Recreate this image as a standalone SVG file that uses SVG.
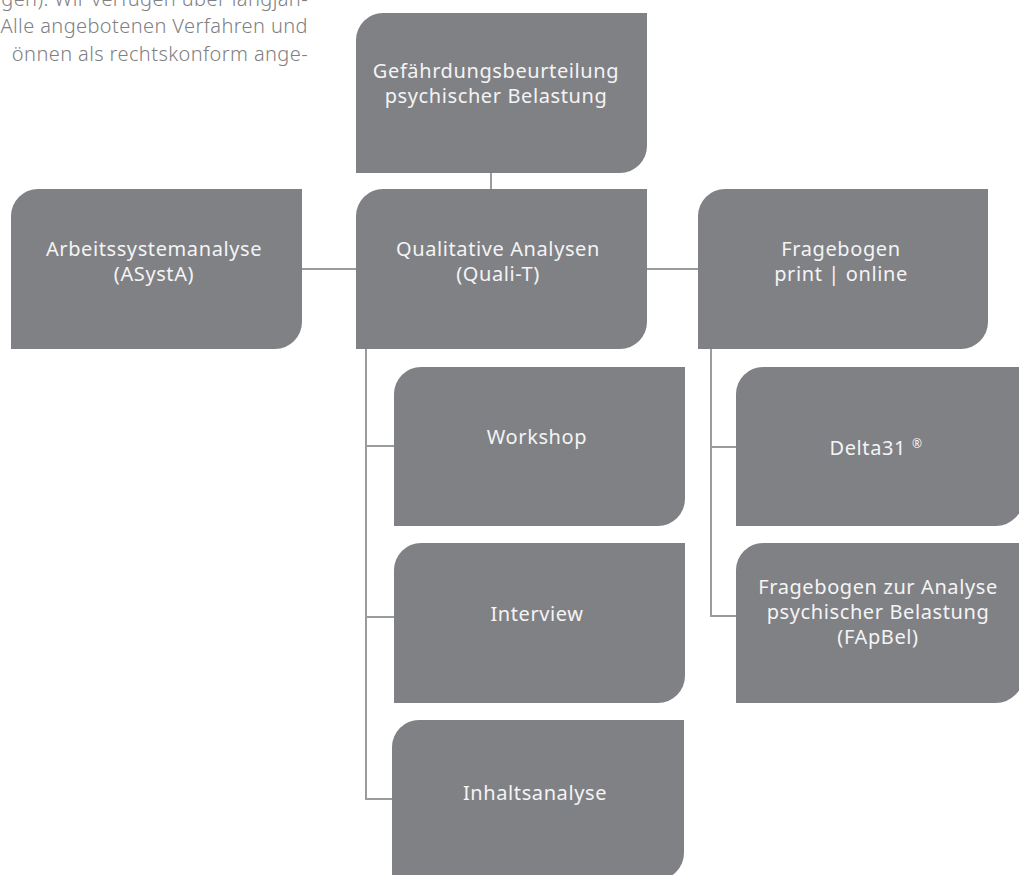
<svg xmlns="http://www.w3.org/2000/svg" width="1019" height="875" viewBox="0 0 1019 875">
<style>
.box{fill:#808185}
.lbl{font-family:"Noto Sans","IBM Plex Sans","Liberation Sans",sans-serif;font-size:20px;letter-spacing:0.6px;fill:#f4f4f4;text-anchor:middle}
.para{font-family:"Noto Sans","Liberation Sans",sans-serif;font-size:20px;letter-spacing:0.4px;fill:#808082;text-anchor:end;font-weight:300}
.con{fill:none;stroke:#9a9b9d;stroke-width:2}
</style>
<rect width="1019" height="875" fill="#ffffff"/>
<g id="paragraph">
<text class="para" x="308" y="6">gen). Wir verfügen über langjäh-</text>
<text class="para" x="308" y="33">Alle angebotenen Verfahren und</text>
<text class="para" x="308" y="61">önnen als rechtskonform ange-</text>
</g>
<g id="connectors">
<path class="con" d="M491,173 V189"/>
<path class="con" d="M302,269 H356"/>
<path class="con" d="M647,269 H698"/>
<path class="con" d="M366,349 V799 H392"/>
<path class="con" d="M366,446 H394"/>
<path class="con" d="M366,617 H394"/>
<path class="con" d="M711,349 V616 H736"/>
<path class="con" d="M711,447 H736"/>
</g>
<g id="node-gefaehrdung">
<path class="box" d="M383,13 H647 V146 A27,27 0 0 1 620,173 H356 V40 A27,27 0 0 1 383,13 Z"/>
<text class="lbl" x="496" y="78">Gefährdungsbeurteilung</text>
<text class="lbl" x="496" y="103">psychischer Belastung</text>
</g>
<g id="node-arbeitssystem">
<path class="box" d="M38,189 H302 V322 A27,27 0 0 1 275,349 H11 V216 A27,27 0 0 1 38,189 Z"/>
<text class="lbl" x="154" y="256">Arbeitssystemanalyse</text>
<text class="lbl" x="154" y="281">(ASystA)</text>
</g>
<g id="node-qualitativ">
<path class="box" d="M383,189 H647 V322 A27,27 0 0 1 620,349 H356 V216 A27,27 0 0 1 383,189 Z"/>
<text class="lbl" x="498" y="256">Qualitative Analysen</text>
<text class="lbl" x="498" y="281">(Quali-T)</text>
</g>
<g id="node-fragebogen">
<path class="box" d="M725,189 H988 V322 A27,27 0 0 1 961,349 H698 V216 A27,27 0 0 1 725,189 Z"/>
<text class="lbl" x="841" y="256">Fragebogen</text>
<text class="lbl" x="841" y="281">print | online</text>
</g>
<g id="node-workshop">
<path class="box" d="M421,367 H685 V499 A27,27 0 0 1 658,526 H394 V394 A27,27 0 0 1 421,367 Z"/>
<text class="lbl" x="537" y="444">Workshop</text>
</g>
<g id="node-interview">
<path class="box" d="M421,543 H685 V676 A27,27 0 0 1 658,703 H394 V570 A27,27 0 0 1 421,543 Z"/>
<text class="lbl" x="537" y="621">Interview</text>
</g>
<g id="node-inhaltsanalyse">
<path class="box" d="M419,720 H684 V853 A27,27 0 0 1 657,880 H392 V747 A27,27 0 0 1 419,720 Z"/>
<text class="lbl" x="535" y="800">Inhaltsanalyse</text>
</g>
<g id="node-delta31">
<path class="box" d="M763,367 H1023 V499 A27,27 0 0 1 996,526 H736 V394 A27,27 0 0 1 763,367 Z"/>
<text class="lbl" x="876" y="455">Delta31 <tspan font-size="12" dy="-7">®</tspan></text>
</g>
<g id="node-fapbel">
<path class="box" d="M763,543 H1023 V676 A27,27 0 0 1 996,703 H736 V570 A27,27 0 0 1 763,543 Z"/>
<text class="lbl" x="878" y="594">Fragebogen zur Analyse</text>
<text class="lbl" x="878" y="619">psychischer Belastung</text>
<text class="lbl" x="878" y="644">(FApBel)</text>
</g>
</svg>
